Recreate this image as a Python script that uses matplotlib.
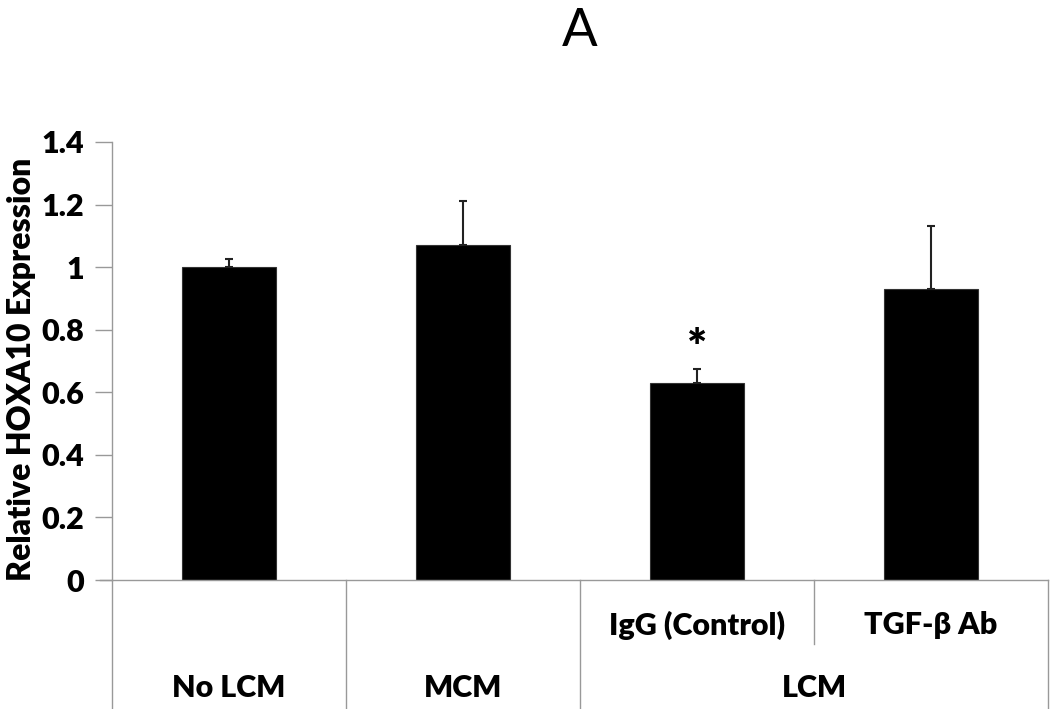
import matplotlib
matplotlib.use("Agg")
import matplotlib.pyplot as plt
import matplotlib.transforms as mtransforms

plt.rcParams['font.family'] = ['Lato', 'DejaVu Sans']

groups = ["No LCM", "MCM", "IgG (Control)", "TGF-β Ab"]
values = [1.00, 1.07, 0.63, 0.93]
errors = [0.025, 0.14, 0.045, 0.20]
outer_labels = ["No LCM", "MCM", "LCM"]
yticks = [0, 0.2, 0.4, 0.6, 0.8, 1.0, 1.2, 1.4]
ytick_labels = ["0", "0.2", "0.4", "0.6", "0.8", "1", "1.2", "1.4"]

W = 'heavy'
fig = plt.figure(figsize=(10.5, 7.09), dpi=100)
ax = fig.add_axes([112/1050, 129/709, 936/1050, 438/709])

x = list(range(len(values)))
ax.bar(x, values, width=0.4, color='black', edgecolor='#333333', linewidth=0.8, zorder=2)
ax.errorbar(x, values, yerr=[[0]*len(errors), errors], fmt='none', ecolor='#222222',
            elinewidth=1.5, capsize=3, capthick=1.5, zorder=3)

ax.set_xlim(-0.5, 3.5)
ax.set_ylim(0, 1.4)
ax.set_yticks(yticks)
ax.set_yticklabels(ytick_labels, fontsize=22, fontweight=W)
ax.tick_params(axis='y', direction='out', length=12, width=1, color='#999999', pad=8)
ax.set_xticks([])
for s in ['top', 'right', 'bottom']:
    ax.spines[s].set_visible(False)
ax.spines['left'].set_color('#999999')
ax.spines['left'].set_linewidth(1)

ax.set_ylabel("Relative HOXA10 Expression", fontsize=23, fontweight=W)
ax.yaxis.set_label_coords(-76/936, 0.48)

# significance
ax.text(2, values[2] + errors[2] - 0.008, "*", ha='center', va='bottom', fontsize=34, fontweight=W)

# category table below axis
trans = mtransforms.blended_transform_factory(ax.transData, ax.transAxes)
lc = '#999999'
ybot = -129/438
ax.plot([-0.5 - 12/234, 3.5], [0, 0], transform=trans, color=lc, lw=1, clip_on=False)
for xb in [-0.5, 0.5, 1.5, 3.5]:
    ax.plot([xb, xb], [0, ybot], transform=trans, color=lc, lw=1, clip_on=False)
ax.plot([2.5, 2.5], [0, -64/438], transform=trans, color=lc, lw=1, clip_on=False)

for xi in [2, 3]:
    ax.text(xi, -45/438, groups[xi], transform=trans, ha='center', va='center',
            fontsize=22, fontweight=W)
for xc, lab in zip([0, 1, 2.5], outer_labels):
    ax.text(xc, -108/438, lab, transform=trans, ha='center', va='center',
            fontsize=22, fontweight=W)

fig.text(580/1050, 1 - 31/709, "A", ha='center', va='center', fontsize=38)

fig.savefig("out.png", dpi=100)
